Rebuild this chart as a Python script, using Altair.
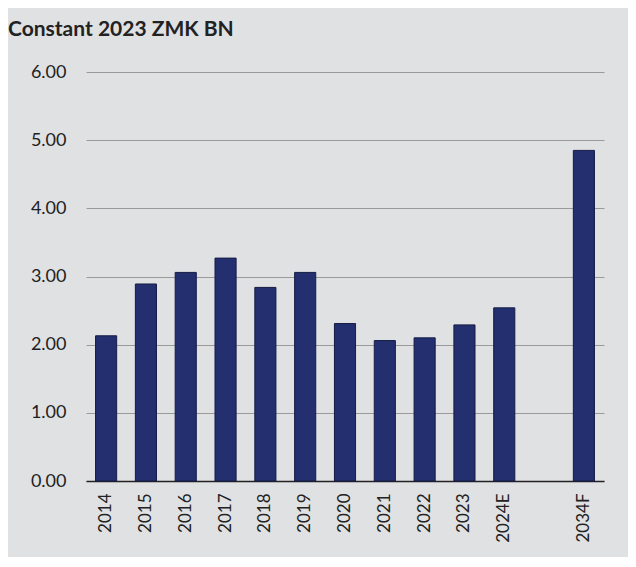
import altair as alt
import pandas as pd

categories = ["2014", "2015", "2016", "2017", "2018", "2019", "2020", "2021",
              "2022", "2023", "2024E", "2034F"]
values = [2.13, 2.89, 3.06, 3.27, 2.84, 3.06, 2.31, 2.06, 2.10, 2.29, 2.54, 4.85]
axis_order = categories[:11] + [" "] + categories[11:]

df = pd.DataFrame({"year": categories, "value": values})

FONT = "Lato"
BG = "#e0e1e3"

chart = alt.Chart(df).mark_bar(
    color="#232f6e", stroke="#141c45", strokeWidth=1
).encode(
    x=alt.X("year:N", sort=axis_order,
            scale=alt.Scale(domain=axis_order, paddingInner=0.47, paddingOuter=0.24),
            axis=alt.Axis(title=None, labelAngle=-90, labelAlign="right",
                          labelBaseline="middle", labelPadding=12, ticks=False,
                          tickSize=0, domainColor="#222222", domainWidth=1.5,
                          labelFontSize=17, labelColor="#222222", labelFont=FONT)),
    y=alt.Y("value:Q", scale=alt.Scale(domain=[0, 6], nice=False),
            axis=alt.Axis(title=None, values=[0, 1, 2, 3, 4, 5, 6], format=".2f",
                          ticks=False, tickSize=0, domain=False, labelPadding=20,
                          gridColor="#9a9a9a", gridWidth=1, labelFontSize=18,
                          labelColor="#222222", labelFont=FONT)),
).properties(
    width=518, height=409,
    background=BG,
    padding={"left": 78, "top": 64, "right": 24, "bottom": 76},
    autosize=alt.AutoSizeParams(type="none"),
    title=alt.TitleParams("Constant 2023 ZMK BN", anchor="start", frame="group",
                          dx=-78, offset=23, font=FONT, fontSize=21,
                          fontWeight="bold", color="#222222"),
).configure_view(stroke=None)

chart.save("out.html", embed_options={"renderer": "svg", "actions": False})
